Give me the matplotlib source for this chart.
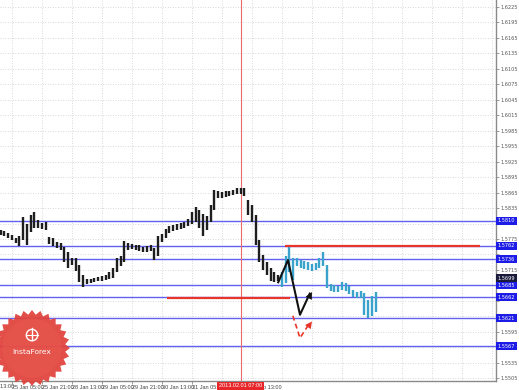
import numpy as np
import matplotlib
matplotlib.use("Agg")
import matplotlib.pyplot as plt
from matplotlib.patches import Polygon, Circle
from matplotlib import font_manager

# ---------------- data ----------------
# black (history) bars, bar index starts at 5 (2-hour bars)
hist_start = 5
hist_high = [1.5792, 1.5790, 1.5786, 1.5783, 1.5777, 1.5781, 1.5817, 1.5804, 1.5821, 1.5827,
             1.5812, 1.5806, 1.5808, 1.5779, 1.5777, 1.5769, 1.5767, 1.5759, 1.5750, 1.5738,
             1.5738, 1.5724, 1.5705, 1.5697, 1.5697, 1.5699, 1.5701, 1.5703, 1.5705, 1.5711,
             1.5719, 1.5738, 1.5742, 1.5771, 1.5767, 1.5765, 1.5763, 1.5763, 1.5759, 1.5761,
             1.5763, 1.5757, 1.5781, 1.5785, 1.5794, 1.5800, 1.5802, 1.5804, 1.5806, 1.5808,
             1.5814, 1.5827, 1.5837, 1.5831, 1.5823, 1.5819, 1.5841, 1.5870, 1.5868, 1.5866,
             1.5868, 1.5868, 1.5870, 1.5874, 1.5874, 1.5874, 1.5850, 1.5841, 1.5821, 1.5773,
             1.5744, 1.5730, 1.5719, 1.5711, 1.5705]
hist_low = [1.5783, 1.5781, 1.5777, 1.5773, 1.5767, 1.5761, 1.5773, 1.5763, 1.5788, 1.5796,
            1.5796, 1.5794, 1.5792, 1.5765, 1.5761, 1.5757, 1.5753, 1.5730, 1.5719, 1.5724,
            1.5713, 1.5691, 1.5682, 1.5688, 1.5689, 1.5691, 1.5693, 1.5693, 1.5695, 1.5697,
            1.5699, 1.5711, 1.5723, 1.5730, 1.5753, 1.5755, 1.5753, 1.5752, 1.5750, 1.5750,
            1.5752, 1.5734, 1.5742, 1.5769, 1.5777, 1.5786, 1.5790, 1.5792, 1.5794, 1.5796,
            1.5800, 1.5804, 1.5808, 1.5796, 1.5781, 1.5792, 1.5808, 1.5831, 1.5854, 1.5854,
            1.5856, 1.5858, 1.5860, 1.5862, 1.5862, 1.5858, 1.5821, 1.5808, 1.5763, 1.5730,
            1.5715, 1.5705, 1.5693, 1.5691, 1.5693]

# cyan (projection) bars, bar index starts at 80
proj_start = 80
proj_high = [1.5711, 1.5742, 1.5759, 1.5738, 1.5738, 1.5734, 1.5732, 1.5730, 1.5726, 1.5728,
             1.5738, 1.5750, 1.5724, 1.5688, 1.5686, 1.5684, 1.5691, 1.5689, 1.5684, 1.5676,
             1.5672, 1.5674, 1.5670, 1.5657, 1.5664, 1.5672]
proj_low = [1.5682, 1.5689, 1.5711, 1.5695, 1.5723, 1.5719, 1.5717, 1.5715, 1.5713, 1.5715,
            1.5719, 1.5723, 1.5680, 1.5674, 1.5672, 1.5672, 1.5676, 1.5674, 1.5668, 1.5662,
            1.5661, 1.5661, 1.5628, 1.5622, 1.5626, 1.5634]

# horizontal levels
blue_levels = [1.5810, 1.5762, 1.5736, 1.5685, 1.5662, 1.5621, 1.5567]
current_price = 1.5699
red_levels = [1.5762, 1.5661]
red_level_from = [80.8, 49.3]
red_level_to = [132.8, 82.1]

# arrows (bar index, price)
black_arrow_x = [79.0, 81.6, 84.8, 88.0]
black_arrow_y = [1.5691, 1.5734, 1.5628, 1.5672]
red_arrow_x = [82.9, 84.8, 88.0]
red_arrow_y = [1.5626, 1.5583, 1.5615]

vline_idx = 69
vline_label = "2013.02.01 07:00"

# axis ticks
y_ticks = [round(1.6225 - 0.003 * k, 4) for k in range(25)]
x_tick_idx = [0, 8, 16, 24, 32, 40, 48, 56, 64, 72]
x_tick_labels = ["24 Jan 13:00", "25 Jan 05:00", "25 Jan 21:00", "28 Jan 13:00",
                 "29 Jan 05:00", "29 Jan 21:00", "30 Jan 13:00", "31 Jan 05:00",
                 "", "1 Feb 13:00"]

# ---------------- fonts ----------------
names = {f.name for f in font_manager.fontManager.ttflist}
narrow_family = ["Liberation Sans Narrow", "DejaVu Sans"] if "Liberation Sans Narrow" in names \
    else ["Liberation Sans", "DejaVu Sans"]
FS = 3.6

# ---------------- figure ----------------
W, H = 519, 390
fig = plt.figure(figsize=(W / 100, H / 100), dpi=100)
fig.patch.set_facecolor("white")
ax = fig.add_axes([0, 9 / H, 496 / W, 381 / H])
ax.set_facecolor("white")
ax.set_xlim(4.8, 137.07)
ax.set_ylim(1.54995, 1.62386)

grid_col = "#cccccc"
for yv in y_ticks:
    ax.axhline(yv, color=grid_col, lw=0.6, ls=(0, (1, 2)), zorder=0)
for xv in range(8, 137, 8):
    ax.axvline(xv, color=grid_col, lw=0.6, ls=(0, (1, 2)), zorder=0)

# levels
for lv in blue_levels:
    ax.axhline(lv, color="#6262f0", lw=1.0, zorder=1)
for lv, a, b in zip(red_levels, red_level_from, red_level_to):
    ax.plot([a, b], [lv, lv], color="#e8352a", lw=1.6, zorder=2, solid_capstyle="butt")
ax.axvline(vline_idx, color="#ec6a6a", lw=0.8, zorder=1)

# bars
hx = np.arange(hist_start, hist_start + len(hist_high))
ax.vlines(hx, hist_low, hist_high, color="#1e1e1e", lw=1.7, zorder=3)
px = np.arange(proj_start, proj_start + len(proj_high))
ax.vlines(px, proj_low, proj_high, color="#3aa3cc", lw=1.7, zorder=3)

# arrows
ax.plot(black_arrow_x[:-1] + [black_arrow_x[-1] - 0.6], black_arrow_y[:-1] + [black_arrow_y[-1] - 0.0003],
        color="#111111", lw=1.5, zorder=4)
ax.annotate("", xy=(black_arrow_x[-1], black_arrow_y[-1]), xytext=(black_arrow_x[-2], black_arrow_y[-2]),
            arrowprops=dict(arrowstyle="-|>,head_length=0.5,head_width=0.25", color="#111111", lw=0.01,
                            shrinkA=14, shrinkB=0), zorder=5)
ax.plot(red_arrow_x[:-1] + [red_arrow_x[-1] - 0.6], red_arrow_y[:-1] + [red_arrow_y[-1] - 0.0003],
        color="#e8352a", lw=1.2, ls=(0, (3, 2)), zorder=4)
ax.annotate("", xy=(red_arrow_x[-1], red_arrow_y[-1]), xytext=(red_arrow_x[-2], red_arrow_y[-2]),
            arrowprops=dict(arrowstyle="-|>,head_length=0.5,head_width=0.25", color="#e8352a", lw=0.01,
                            shrinkA=14, shrinkB=0), zorder=5)

# spines / ticks
for s in ["top", "left"]:
    ax.spines[s].set_visible(False)
for s in ["right", "bottom"]:
    ax.spines[s].set_color("#8a8a8a")
    ax.spines[s].set_linewidth(1.0)
ax.yaxis.tick_right()
ax.set_yticks(y_ticks)
box_levels = blue_levels + [current_price]
ylabels = []
for v in y_ticks:
    covered = any(abs(v - b) < 0.0009 for b in box_levels)
    ylabels.append("" if covered else f"{v:.4f}")
ax.set_yticklabels(ylabels)
ax.tick_params(axis="y", length=2, width=0.6, color="#8a8a8a", labelsize=FS, labelcolor="#555555", pad=1.5)
ax.set_xticks(x_tick_idx[1:])
ax.set_xticklabels(x_tick_labels[1:], family=narrow_family)
ax.tick_params(axis="x", length=2, width=0.6, color="#8a8a8a", labelsize=4.0, labelcolor="#444444", pad=1.0)
for lbl in ax.get_xticklabels():
    lbl.set_ha("left")
# partially visible first label
ax.text(x_tick_idx[0], -0.008, x_tick_labels[0], transform=ax.get_xaxis_transform(), family=narrow_family,
        fontsize=4.0, color="#444444", ha="left", va="top", clip_on=False)

# level labels on price scale
trans = ax.get_yaxis_transform()
for lv in blue_levels:
    ax.text(1.004, lv, f"{lv:.4f}", transform=trans, fontsize=FS, color="white", ha="left", va="center",
            bbox=dict(boxstyle="square,pad=0.3", fc="#1c1ce6", ec="none"), zorder=10, clip_on=False)
ax.text(1.004, current_price, f"{current_price:.4f}", transform=trans, fontsize=FS, color="white",
        ha="left", va="center",
        bbox=dict(boxstyle="square,pad=0.3", fc="#1a1a3a", ec="none"),
        zorder=10, clip_on=False)

# vertical line label
ax.text(vline_idx, -0.006, vline_label, transform=ax.get_xaxis_transform(), fontsize=4.0,
        color="white", ha="center", va="top", family=narrow_family,
        bbox=dict(boxstyle="square,pad=0.3", fc="#e8262a", ec="none"), zorder=10, clip_on=False)

# InstaForex logo
lax = fig.add_axes([-6 / W, (H - 386) / H, 76 / W, 76 / H])
lax.set_xlim(-1, 1)
lax.set_ylim(-1, 1)
lax.set_aspect("equal")
lax.axis("off")
n = 28
ang = np.linspace(0, 2 * np.pi, 2 * n, endpoint=False)
rad = np.where(np.arange(2 * n) % 2 == 0, 1.0, 0.88)
lax.add_patch(Polygon(np.c_[rad * np.cos(ang), rad * np.sin(ang)], closed=True, fc="#e0403a", ec="none", alpha=0.93))
lax.add_patch(Circle((0, 0.0), 0.78, fc="#e85a4e", ec="none", alpha=0.5))
lax.add_patch(Circle((0, 0.34), 0.15, fc="none", ec="white", lw=1.0))
lax.plot([0, 0], [0.22, 0.52], color="white", lw=1.0)
lax.plot([-0.15, 0.15], [0.34, 0.34], color="white", lw=0.8)
lax.text(0, -0.1, "InstaForex", color="white", fontsize=5.4, ha="center", va="center")

fig.savefig("out.png", dpi=100, facecolor="white")
